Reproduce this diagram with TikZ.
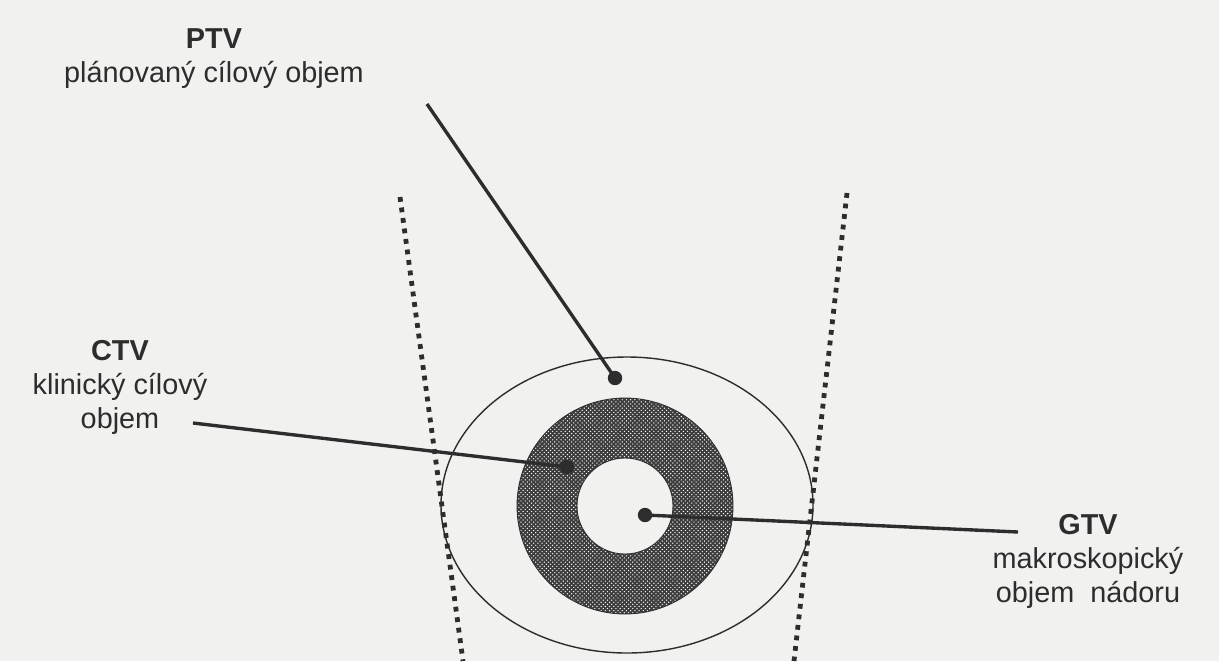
\documentclass[tikz,border=0pt]{standalone}
\usepackage{fontspec}
\setmainfont{Liberation Sans}
\usetikzlibrary{patterns}
\definecolor{paper}{RGB}{241,241,240}
\definecolor{ink}{RGB}{45,45,45}
\definecolor{ringgray}{RGB}{60,60,60}
\tikzset{
  voltext/.style={font=\fontsize{20.5pt}{24pt}\selectfont, text=ink, align=center, inner sep=0pt, anchor=base},
  leaddot/.style={circle, fill=ink, inner sep=0pt, minimum size=0.36cm},
  lead/.style={draw=ink, line width=2.4pt},
  border/.style={draw=ink, line width=0.12cm, dash pattern=on 0.12cm off 0.145cm}
}
\begin{document}
\begin{tikzpicture}[x=0.025cm,y=-0.025cm]
\fill[paper] (0,0) rectangle (1219,661);
\draw[border] (400,197) -- (463,661);
\draw[border] (847,193) -- (794,661);
\draw[ink, line width=1pt] (627,505) ellipse [x radius=186, y radius=148];
\fill[ringgray, even odd rule] (625,506) circle [radius=108] (625,506) circle [radius=48];
\fill[pattern=crosshatch dots, pattern color=white, even odd rule] (625,506) circle [radius=108] (625,506) circle [radius=48];
\draw[ink, line width=0.6pt] (625,506) circle [radius=108] (625,506) circle [radius=48];
\node[voltext] (ptv) at (214,82) {\textbf{PTV}\\plánovaný cílový objem};
\node[voltext] (ctv) at (120,428) {\textbf{CTV}\\klinický cílový\\objem};
\node[voltext] (gtv) at (1088,602) {\textbf{GTV}\\makroskopický\\objem\ \ nádoru};
\node[leaddot] (ptvdot) at (615,378) {};
\node[leaddot] (ctvdot) at (567,467) {};
\node[leaddot] (gtvdot) at (645,515) {};
\coordinate (ptvlead) at (427,104);
\coordinate (ctvlead) at (193,423);
\coordinate (gtvlead) at (1018,532);
\draw[lead] (ptvlead) -- (ptvdot.center);
\draw[lead] (ctvlead) -- (ctvdot.center);
\draw[lead] (gtvdot.center) -- (gtvlead);
\end{tikzpicture}
\end{document}
